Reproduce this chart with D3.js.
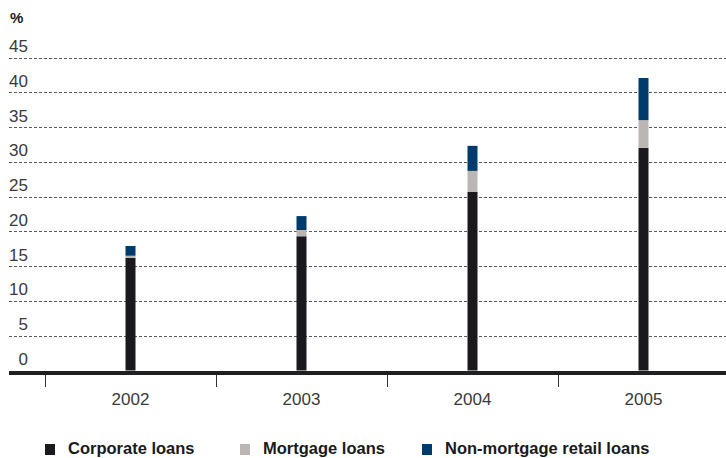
<!DOCTYPE html>
<html>
<head>
<meta charset="utf-8">
<script src="https://cdn.jsdelivr.net/npm/d3@7"></script>
<style>
  html, body { margin: 0; padding: 0; background: #fff; }
  svg { display: block; font-family: "Liberation Sans", Arial, Helvetica, sans-serif; }
</style>
</head>
<body>
<svg id="chart" width="726" height="458"></svg>
<script>
// Loan growth by category, stacked per year (%)
const years = ["2002", "2003", "2004", "2005"];
const corporate = [16.2, 19.3, 25.7, 32.0];
const mortgage = [0.3, 0.9, 3.0, 4.0];
const nonMortgageRetail = [1.4, 2.0, 3.6, 6.05];
const yTicks = [0, 5, 10, 15, 20, 25, 30, 35, 40, 45];
const seriesNames = ["Corporate loans", "Mortgage loans", "Non-mortgage retail loans"];
const seriesColors = ["#1b191d", "#bbb6b3", "#003b6b"];

const svg = d3.select("#chart");

const x = d3.scaleBand().domain(years).range([45, 729]);
const y = d3.scaleLinear().domain([0, 45]).range([370.5, 57.5]);

// Stack the three series
const rows = years.map((yr, i) => ({
  year: yr,
  "Corporate loans": corporate[i],
  "Mortgage loans": mortgage[i],
  "Non-mortgage retail loans": nonMortgageRetail[i]
}));
const stacked = d3.stack().keys(seriesNames)(rows);

// Dashed gridlines
svg.append("g")
  .selectAll("line")
  .data(yTicks.filter(d => d > 0))
  .join("line")
  .attr("x1", 9).attr("x2", 726)
  .attr("y1", d => Math.round(y(d)) + 0.5)
  .attr("y2", d => Math.round(y(d)) + 0.5)
  .attr("stroke", "#5a5a5a")
  .attr("stroke-width", 1)
  .attr("stroke-dasharray", "3,2");

// Y tick labels
svg.append("g")
  .selectAll("text")
  .data(yTicks)
  .join("text")
  .attr("x", 28)
  .attr("y", d => y(d) - 5.5)
  .attr("text-anchor", "end")
  .attr("font-size", 17)
  .attr("fill", "#3a3a3a")
  .text(d => d);

// Unit label
svg.append("text")
  .attr("x", 10).attr("y", 23)
  .attr("font-size", 15)
  .attr("font-weight", "bold")
  .attr("fill", "#1a1a1a")
  .text("%");

// Bars
const barW = 10;
svg.append("g")
  .selectAll("g")
  .data(stacked)
  .join("g")
  .attr("fill", (d, i) => seriesColors[i])
  .selectAll("rect")
  .data(d => d)
  .join("rect")
  .attr("x", d => x(d.data.year) + x.bandwidth() / 2 - barW / 2)
  .attr("width", barW)
  .attr("y", d => y(d[1]))
  .attr("height", d => y(d[0]) - y(d[1]));

// Baseline
svg.append("rect")
  .attr("x", 9).attr("y", 371)
  .attr("width", 717).attr("height", 4)
  .attr("fill", "#202022");

// Category ticks at band boundaries
svg.append("g")
  .selectAll("line")
  .data(years)
  .join("line")
  .attr("x1", d => Math.round(x(d)) + 0.5)
  .attr("x2", d => Math.round(x(d)) + 0.5)
  .attr("y1", 375).attr("y2", 387)
  .attr("stroke", "#333")
  .attr("stroke-width", 1);

// Year labels
svg.append("g")
  .selectAll("text")
  .data(years)
  .join("text")
  .attr("x", d => x(d) + x.bandwidth() / 2)
  .attr("y", 405)
  .attr("text-anchor", "middle")
  .attr("font-size", 17)
  .attr("fill", "#3a3a3a")
  .text(d => d);

// Legend
const legendX = [45, 240, 422];
const legend = svg.append("g")
  .selectAll("g")
  .data(seriesNames)
  .join("g")
  .attr("transform", (d, i) => `translate(${legendX[i]},444)`);
legend.append("rect")
  .attr("width", 10).attr("height", 11)
  .attr("fill", (d, i) => seriesColors[i]);
legend.append("text")
  .attr("x", 23).attr("y", 10)
  .attr("font-size", 16.5)
  .attr("font-weight", "bold")
  .attr("fill", "#1a1a1a")
  .text(d => d);
</script>
</body>
</html>
